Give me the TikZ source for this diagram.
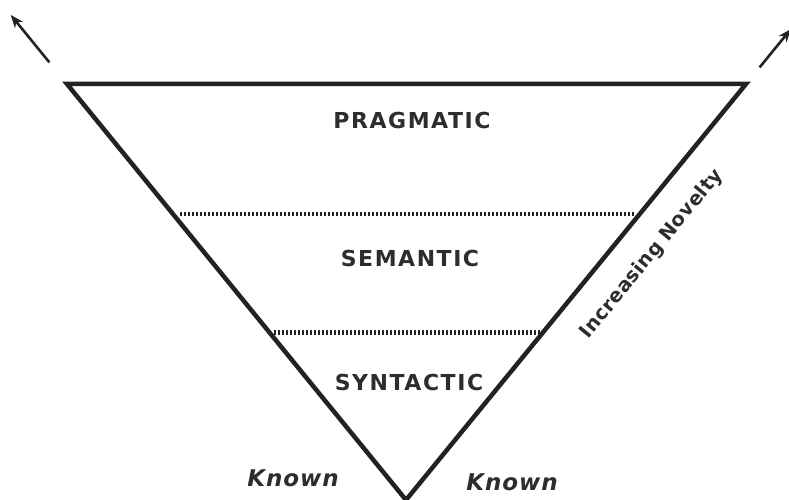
\documentclass[tikz,border=0pt]{standalone}
\usepackage{fontspec}
\setmainfont{DejaVu Sans}
\usepackage{tikz}
\usetikzlibrary{arrows.meta, positioning, calc}
\definecolor{inkgray}{RGB}{34,34,34}
\definecolor{textgray}{RGB}{45,45,45}
\tikzset{
  levellabel/.style={font=\fontsize{22}{22}\selectfont\bfseries\addfontfeature{LetterSpace=7},
    text=textgray, inner sep=0pt},
  knownlabel/.style={font=\fontsize{23}{23}\selectfont\bfseries\itshape\addfontfeature{LetterSpace=4},
    text=textgray, inner sep=0pt},
  axislabel/.style={font=\fontsize{19.5}{19.5}\selectfont\bfseries\addfontfeature{LetterSpace=2},
    text=textgray, inner sep=0pt},
  edge/.style={line width=4.5pt, color=inkgray, line join=miter},
  divider/.style={line width=4.5pt, color=inkgray, dash pattern=on 1.8pt off 2.2pt},
  arrow/.style={-{Stealth[length=13pt, width=10pt]}, line width=2.6pt, color=inkgray},
}

\begin{document}
\begin{tikzpicture}[x=1pt, y=1pt]

  \useasboundingbox (0,0) rectangle (789,500);

  %% ── Triangle corners ────────────────────────────────────────
  \coordinate (tl)   at (67,416);
  \coordinate (tr)   at (746,416);
  \coordinate (apex) at (406,0);

  \draw[edge] (tl) -- (tr) -- (apex) -- cycle;

  %% ── Level dividers ──────────────────────────────────────────
  \coordinate (d1l) at ($(tl)!0.312!(apex)+(7,0)$);
  \coordinate (d1r) at ($(tr)!0.312!(apex)+(-5,0)$);
  \coordinate (d2l) at ($(tl)!0.597!(apex)+(5,0)$);
  \coordinate (d2r) at ($(tr)!0.597!(apex)+(-2,0)$);

  \draw[divider] (d1l) -- (d1r);
  \draw[divider] (d2l) -- (d2r);

  \node[levellabel] (prag) at (412,380) {PRAGMATIC};
  \node[levellabel] (sem)  at (410,242) {SEMANTIC};
  \node[levellabel] (syn)  at (409,118) {SYNTACTIC};

  %% ── Outward arrows ──────────────────────────────────────────
  \coordinate (ltail) at ($(tl)!-0.052!(apex)$);
  \coordinate (lhead) at ($(tl)!-0.166!(apex)$);
  \coordinate (rtail) at ($(tr)!-0.040!(apex)$);
  \coordinate (rhead) at ($(tr)!-0.132!(apex)$);

  \draw[arrow] (ltail) -- (lhead);
  \draw[arrow] (rtail) -- (rhead);

  %% ── Side labels ─────────────────────────────────────────────
  \node[axislabel, rotate=50.7] (novelty) at (652,246) {Increasing Novelty};

  \node[knownlabel] (known1) at (293,22) {Known};
  \node[knownlabel] (known2) at (512,18) {Known};

\end{tikzpicture}
\end{document}
